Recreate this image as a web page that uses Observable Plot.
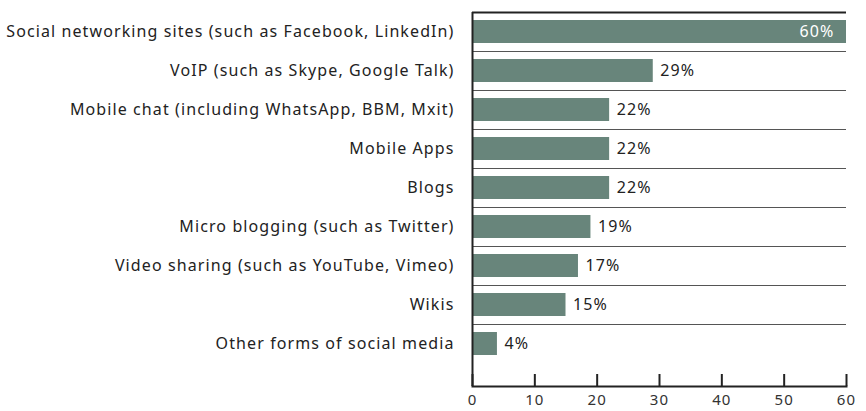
<!DOCTYPE html>
<html>
<head>
<meta charset="utf-8">
<script src="https://cdn.jsdelivr.net/npm/d3@7"></script>
<script src="https://cdn.jsdelivr.net/npm/@observablehq/plot@0.6"></script>
<style>
  html, body { margin: 0; padding: 0; background: #fff; }
  #chart svg { display: block; letter-spacing: 1.1px; }
</style>
</head>
<body>
<div id="chart"></div>
<script>
const categories = [
  "Social networking sites (such as Facebook, LinkedIn)",
  "VoIP (such as Skype, Google Talk)",
  "Mobile chat (including WhatsApp, BBM, Mxit)",
  "Mobile Apps",
  "Blogs",
  "Micro blogging (such as Twitter)",
  "Video sharing (such as YouTube, Vimeo)",
  "Wikis",
  "Other forms of social media"
];
const values = [60, 29, 22, 22, 22, 19, 17, 15, 4];
const xTicks = [0, 10, 20, 30, 40, 50, 60];

const data = categories.map((c, i) => ({category: c, value: values[i]}));
const font = "'Noto Sans', 'Open Sans', sans-serif";
const barColor = "#68857b";
const dark = "#222";

const chart = Plot.plot({
  width: 866,
  height: 411,
  marginLeft: 472,
  marginRight: 20,
  marginTop: 12,
  marginBottom: 25,
  style: {fontFamily: font, fontSize: "16px", color: dark, background: "#fff"},
  x: {domain: [0, 60], axis: null, label: null},
  y: {domain: categories, range: [12, 363], paddingInner: 0.41, paddingOuter: 0.205, axis: null, label: null},
  marks: [
    // separators between rows
    Plot.ruleY(categories.slice(1), {y: d => d, dy: -19.5, stroke: "#555", strokeWidth: 1}),
    // top line
    Plot.ruleY(categories.slice(0, 1), {y: d => d, dy: -19.5, stroke: dark, strokeWidth: 2}),
    Plot.barX(data, {x: "value", y: "category", fill: barColor}),
    // value labels outside
    Plot.text(data.filter(d => d.value < 50), {x: "value", y: "category", text: d => d.value + "%", textAnchor: "start", dx: 7, fill: dark, fontSize: 16}),
    // value label inside
    Plot.text(data.filter(d => d.value >= 50), {x: "value", y: "category", text: d => d.value + "%", textAnchor: "end", dx: -12, fill: "#fff", fontSize: 16}),
    // left axis line
    Plot.ruleX([0], {stroke: dark, strokeWidth: 2}),
    // bottom axis line
    Plot.frame({anchor: "bottom", stroke: dark, strokeWidth: 2}),
    // upward ticks
    Plot.ruleX(xTicks, {x: d => d, insetTop: 362, stroke: dark, strokeWidth: 2}),
    Plot.axisX(xTicks, {tickSize: 0, tickPadding: 8, fontSize: 15, fill: "#333", label: null}),
    Plot.axisY(categories, {tickSize: 0, tickPadding: 18, fontSize: 16, fill: dark, label: null})
  ]
});
document.getElementById("chart").appendChild(chart);
</script>
</body>
</html>
